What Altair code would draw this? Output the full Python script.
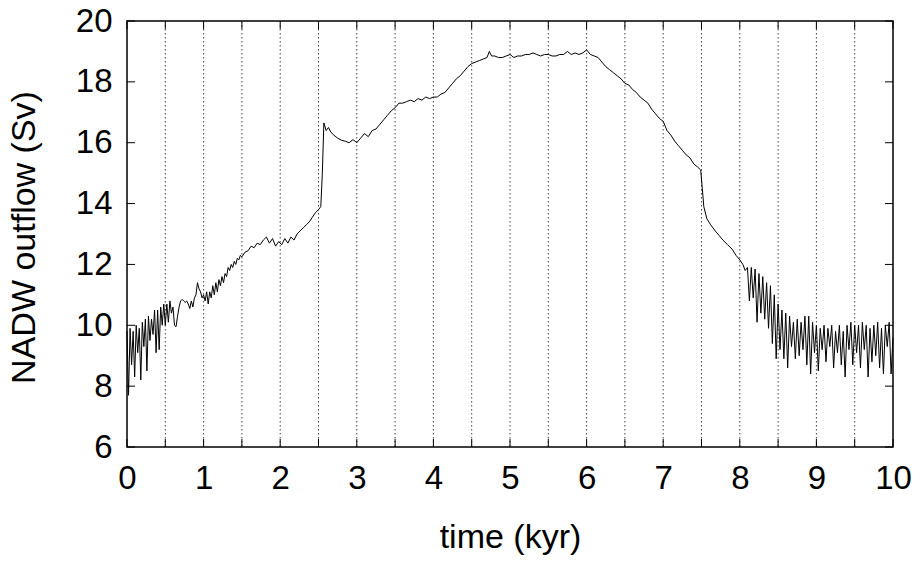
import altair as alt
import pandas as pd

time = [0.00,0.02,0.04,0.06,0.08,0.10,0.12,0.14,0.16,0.18,0.20,0.22,0.24,0.26,0.28,0.30,0.32,0.34,0.36,0.38,
        0.40,0.42,0.44,0.46,0.48,0.50,0.52,0.54,0.56,0.58,0.60,0.62,0.64,0.66,0.68,0.70,0.72,0.74,0.76,0.78,
        0.80,0.82,0.84,0.86,0.88,0.90,0.92,0.94,0.96,0.98,1.00,
        1.02,1.04,1.06,1.08,1.10,1.12,1.14,1.16,1.18,1.20,1.22,1.24,1.26,1.28,1.30,1.32,1.34,1.36,1.38,1.40,
        1.42,1.44,1.46,1.48,1.50,1.54,1.58,1.62,1.66,1.70,1.74,1.78,1.82,1.86,1.90,1.94,1.98,2.02,2.06,2.10,
        2.14,2.18,2.22,2.26,2.30,2.34,2.38,2.42,2.46,2.50,2.53,2.55,2.57,2.60,2.63,2.66,2.70,2.75,2.80,2.85,
        2.90,2.95,3.00,3.05,3.10,3.15,3.20,3.25,3.30,3.35,3.40,3.45,3.50,3.55,3.60,3.65,3.70,3.75,3.80,3.85,
        3.90,3.95,4.00,4.05,4.10,4.15,4.20,4.25,4.30,4.35,4.40,4.45,4.50,4.55,4.60,4.65,4.70,4.73,4.76,4.80,
        4.85,4.90,4.95,5.00,5.05,5.10,5.15,5.20,5.25,5.30,5.35,5.40,5.45,5.50,5.55,5.60,5.65,5.70,5.75,5.80,
        5.85,5.90,5.95,6.00,6.05,6.10,6.15,6.20,6.25,6.30,6.35,6.40,6.45,6.50,6.55,6.60,6.65,6.70,6.75,6.80,
        6.85,6.90,6.95,7.00,7.05,7.10,7.15,7.20,7.25,7.30,7.35,7.40,7.45,7.49,7.51,7.53,7.57,7.62,7.68,7.73,
        7.78,7.84,7.90,7.95,8.00,8.04,8.07,8.10,
        8.125,8.15,8.175,8.20,8.225,8.25,8.275,8.30,8.325,8.35,8.375,8.40,8.425,8.45,8.475,8.50,8.525,8.55,
        8.575,8.60,8.625,8.65,8.675,8.70,8.725,8.75,8.775,8.80,8.825,8.85,8.875,8.90,8.925,8.95,8.975,9.00,
        9.025,9.05,9.075,9.10,9.125,9.15,9.175,9.20,9.225,9.25,9.275,9.30,9.325,9.35,9.375,9.40,9.425,9.45,
        9.475,9.50,9.525,9.55,9.575,9.60,9.625,9.65,9.675,9.70,9.725,9.75,9.775,9.80,9.825,9.85,9.875,9.90,
        9.925,9.95,9.975,10.0]

outflow = [9.8,7.7,9.9,8.7,9.8,8.3,10.0,9.1,9.9,8.2,10.1,9.3,10.2,8.5,10.3,9.5,10.2,9.7,10.5,9.1,
           10.5,9.2,10.6,10.0,10.7,10.0,10.7,10.1,10.8,10.4,10.6,10.0,9.95,10.3,10.6,10.8,10.85,10.8,10.75,10.8,
           10.7,10.55,10.8,10.6,10.9,11.0,11.4,11.2,11.1,10.9,11.0,
           10.8,11.1,10.7,11.1,10.9,11.3,11.0,11.4,11.1,11.5,11.3,11.6,11.4,11.7,11.6,11.9,11.8,12.0,11.9,12.1,
           12.0,12.2,12.15,12.3,12.25,12.4,12.45,12.6,12.55,12.7,12.65,12.8,12.9,12.7,12.85,12.6,12.75,12.65,12.85,12.7,
           12.9,12.8,13.0,13.1,13.2,13.3,13.4,13.55,13.7,13.8,13.9,15.0,16.65,16.4,16.5,16.35,16.25,16.15,16.08,16.05,
           16.0,16.1,16.0,16.15,16.3,16.2,16.4,16.45,16.6,16.75,16.9,17.05,17.15,17.3,17.3,17.35,17.4,17.35,17.45,17.4,
           17.5,17.45,17.5,17.5,17.6,17.65,17.8,17.95,18.1,18.2,18.35,18.5,18.6,18.65,18.7,18.75,18.8,19.0,18.85,18.85,
           18.8,18.8,18.85,18.9,18.8,18.85,18.85,18.9,18.9,18.95,18.9,18.85,18.9,18.9,18.85,18.85,18.9,18.9,19.0,18.9,
           18.95,18.9,18.95,19.05,18.9,18.85,18.8,18.65,18.5,18.4,18.3,18.2,18.1,17.95,17.9,17.75,17.65,17.5,17.4,17.3,
           17.1,16.95,16.8,16.7,16.4,16.25,16.05,15.9,15.75,15.6,15.5,15.3,15.2,15.1,14.5,13.9,13.5,13.3,13.1,12.95,
           12.8,12.65,12.5,12.3,12.15,12.0,11.8,11.9,
           10.8,11.9,10.9,11.85,10.1,11.7,10.4,11.6,10.2,11.4,9.9,11.3,9.4,11.0,8.9,10.7,9.2,10.5,
           8.9,10.4,8.6,10.3,9.3,10.1,8.9,10.2,9.0,10.1,9.2,10.3,8.7,10.3,8.4,10.1,9.1,10.0,
           8.5,9.9,9.2,10.0,8.8,9.9,9.3,10.0,8.6,9.8,9.1,10.0,8.7,9.8,8.3,10.0,9.2,10.1,
           8.7,10.0,9.1,10.0,8.6,10.1,9.2,10.0,8.3,9.9,8.8,10.0,9.0,10.1,8.6,9.9,8.4,10.0,
           9.3,10.1,8.4,9.6]

x_labels = [0, 1, 2, 3, 4, 5, 6, 7, 8, 9, 10]
x_ticks = [0, 0.5, 1, 1.5, 2, 2.5, 3, 3.5, 4, 4.5, 5, 5.5, 6, 6.5, 7, 7.5, 8, 8.5, 9, 9.5, 10]
x_grid = [0.5, 1, 1.5, 2, 2.5, 3, 3.5, 4, 4.5, 5, 5.5, 6, 6.5, 7, 7.5, 8, 8.5, 9, 9.5]
y_ticks = [6, 8, 10, 12, 14, 16, 18, 20]

W, H = 766, 426
FONT = "Liberation Sans"
FS = 33
TFS = 34

df = pd.DataFrame({"time": time, "outflow": outflow})
xs = alt.Scale(domain=[0, 10], nice=False, zero=False)
ys = alt.Scale(domain=[6, 20], nice=False, zero=False)

grid = alt.Chart(pd.DataFrame({"time": x_grid})).mark_rule(
    color="#444444", strokeWidth=1, strokeDash=[1.5, 2.5]).encode(
    x=alt.X("time:Q", scale=xs), y=alt.value(0), y2=alt.value(H))

line = alt.Chart(df).mark_line(color="black", strokeWidth=1).encode(
    x=alt.X("time:Q", scale=xs, axis=alt.Axis(
        values=x_labels, format="d", grid=False,
        ticks=False, domain=False, labelFontSize=FS, labelFont=FONT, labelColor="black",
        labelPadding=15, labelFlush=False, labelOverlap=False,
        title="time (kyr)", titleFontSize=TFS, titleFont=FONT, titleFontWeight="normal",
        titleColor="black", titleBaseline="middle", titleX=W / 2, titleY=90)),
    y=alt.Y("outflow:Q", scale=ys, axis=alt.Axis(
        values=y_ticks, format="d", grid=False, ticks=False, domain=False,
        labelFontSize=FS, labelFont=FONT, labelColor="black", labelPadding=15, labelFlush=False,
        labelOverlap=False,
        title="NADW outflow (Sv)", titleFontSize=TFS, titleFont=FONT, titleFontWeight="normal",
        titleColor="black", titleBaseline="middle", titleAngle=-90, titleX=-103, titleY=H / 2 + 3)),
)

xt_df = pd.DataFrame({"time": x_ticks})
yt_df = pd.DataFrame({"outflow": y_ticks})
TL = 8
xb = alt.Chart(xt_df).mark_rule(color="black", strokeWidth=1).encode(
    x=alt.X("time:Q", scale=xs), y=alt.value(H), y2=alt.value(H - TL))
xtop = alt.Chart(xt_df).mark_rule(color="black", strokeWidth=1).encode(
    x=alt.X("time:Q", scale=xs), y=alt.value(0), y2=alt.value(TL))
yl = alt.Chart(yt_df).mark_rule(color="black", strokeWidth=1).encode(
    y=alt.Y("outflow:Q", scale=ys), x=alt.value(0), x2=alt.value(TL))
yr = alt.Chart(yt_df).mark_rule(color="black", strokeWidth=1).encode(
    y=alt.Y("outflow:Q", scale=ys), x=alt.value(W), x2=alt.value(W - TL))

chart = alt.layer(grid, line, xb, xtop, yl, yr).properties(
    width=W, height=H,
    autosize=alt.AutoSizeParams(type="none"),
    padding={"left": 127, "top": 21, "right": 27, "bottom": 115},
    background="white",
).configure_view(stroke="black", strokeWidth=1.5)

chart.save("out.html", embed_options={"renderer": "svg", "actions": False})
